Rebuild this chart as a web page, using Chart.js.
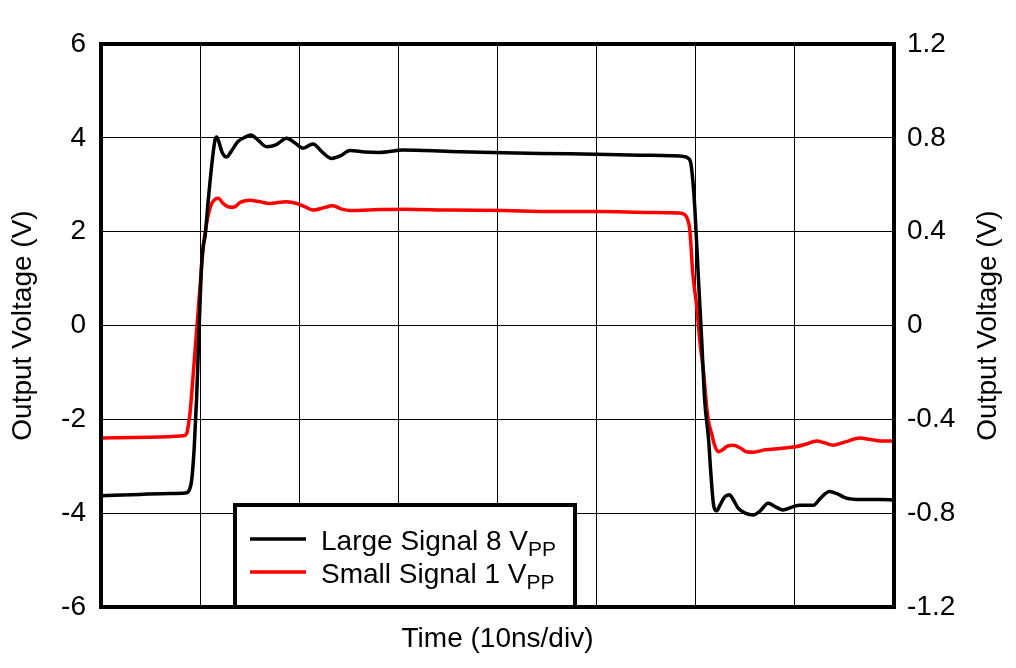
<!DOCTYPE html>
<html>
<head>
<meta charset="utf-8">
<title>Output Voltage vs Time</title>
<script src="https://cdn.jsdelivr.net/npm/chart.js@4.4.1/dist/chart.umd.min.js"></script>
<style>
  html, body { margin: 0; padding: 0; background: #fff; }
  #wrap { width: 1016px; height: 668px; }
</style>
</head>
<body>
<div id="wrap"><canvas id="stepChart" width="1016" height="668"></canvas></div>
<script>
// time in ns (10 ns per division)
const largeTime = [0, 3.9, 7.0, 8.5, 8.9, 9.15, 9.41, 9.65, 9.89, 10.16, 10.33, 10.49, 10.82, 11.23, 11.5, 11.67,
  11.9, 12.2, 12.68, 13.1, 13.82, 14.5, 15.13, 15.84, 16.72, 17.65, 18.73, 19.57, 20.38, 21.39, 22.3, 23.27,
  24.1, 25.12, 26.6, 28.1, 30.5, 35.2, 40.6, 47.3, 54.4, 57.4, 58.8, 59.2, 59.5, 59.7, 59.9, 60.24, 60.6,
  60.9, 61.3, 61.5, 61.8, 62.1, 62.4, 62.9, 63.4, 63.8, 64.3, 65.0, 65.8, 66.5, 67.3, 68.1, 68.8, 69.7,
  70.5, 71.9, 72.5, 73.5, 74.3, 75.2, 76.6, 78.6, 80];
const largeVolts = [-3.63, -3.60, -3.58, -3.57, -3.51, -3.29, -2.58, -1.52, -0.10, 1.33, 1.72, 1.89, 2.67, 3.53, 3.95, 4.02,
  3.91, 3.70, 3.59, 3.70, 3.92, 4.01, 4.06, 3.95, 3.81, 3.85, 3.99, 3.89, 3.78, 3.87, 3.70, 3.56,
  3.61, 3.73, 3.70, 3.69, 3.74, 3.71, 3.68, 3.66, 3.63, 3.62, 3.60, 3.57, 3.46, 3.10, 2.53, 1.12, -0.31,
  -1.59, -2.44, -3.08, -3.83, -3.95, -3.85, -3.66, -3.61, -3.72, -3.90, -4.00, -4.04, -3.95, -3.79, -3.87, -3.93, -3.87,
  -3.83, -3.83, -3.70, -3.54, -3.59, -3.68, -3.71, -3.71, -3.72];

const smallTime = [0, 4.9, 8.3, 8.65, 8.8, 8.98, 9.31, 9.65, 9.99, 10.32, 10.66, 10.89, 11.17, 11.5, 11.83, 12.33,
  12.81, 13.35, 14.1, 15.0, 16.0, 17.0, 18.73, 19.74, 20.6, 21.4, 22.3, 23.4, 24.3, 25.1, 28.1, 30.5,
  35.2, 40.6, 45.3, 50.3, 55.4, 58.4, 58.9, 59.2, 59.4, 59.7, 60.1, 60.4, 60.8, 61.1, 61.3, 61.6,
  61.9, 62.3, 62.7, 63.2, 63.8, 64.5, 65.1, 65.8, 67.0, 68.5, 70.2, 71.1, 72.2, 73.0, 73.9, 75.1,
  76.6, 77.6, 78.6, 80];
// small signal is read against the right axis
const smallVolts = [-0.480, -0.476, -0.470, -0.460, -0.428, -0.374, -0.204, -0.020, 0.166, 0.336, 0.436, 0.484, 0.520, 0.538, 0.542, 0.520,
  0.506, 0.504, 0.526, 0.534, 0.528, 0.520, 0.528, 0.520, 0.506, 0.492, 0.500, 0.510, 0.496, 0.490, 0.494, 0.496,
  0.492, 0.490, 0.486, 0.486, 0.482, 0.480, 0.472, 0.450, 0.408, 0.222, 0.080, -0.062, -0.204, -0.346, -0.412, -0.460,
  -0.510, -0.538, -0.530, -0.514, -0.510, -0.522, -0.538, -0.540, -0.530, -0.524, -0.516, -0.506, -0.492, -0.500, -0.510, -0.496,
  -0.480, -0.486, -0.492, -0.492];

const timeTicks = [0, 10, 20, 30, 40, 50, 60, 70, 80];
const leftTicks = [-6, -4, -2, 0, 2, 4, 6];
const rightTicks = [-1.2, -0.8, -0.4, 0, 0.4, 0.8, 1.2];
const seriesLabels = ['Large Signal 8 V', 'Small Signal 1 V'];
const seriesSub = ['PP', 'PP'];
const yTitle = 'Output Voltage (V)';

const FONT = '"Liberation Sans", Arial, sans-serif';

function toPoints(xs, ys) {
    return xs.map((x, i) => ({ x: x, y: ys[i] }));
}

// legend box inside the plot, heavy frame, and the right title (reads bottom-to-top like the left one)
const frameAndLegend = {
    id: 'frameAndLegend',
    afterDraw(chart) {
        const ctx = chart.ctx;
        const ca = chart.chartArea;
        ctx.save();

        const bx = ca.left + 134, bw = 340, bh = 102;
        const by = ca.bottom - bh;
        ctx.fillStyle = '#fff';
        ctx.fillRect(bx, by, bw, bh);
        ctx.lineWidth = 4;
        ctx.strokeStyle = '#000';
        ctx.strokeRect(bx, by, bw, bh);

        chart.data.datasets.forEach(function(ds, i) {
            const y = by + 34 + i * 33;
            ctx.strokeStyle = ds.borderColor;
            ctx.lineWidth = 3.5;
            ctx.beginPath();
            ctx.moveTo(bx + 15, y);
            ctx.lineTo(bx + 71, y);
            ctx.stroke();

            ctx.fillStyle = '#000';
            ctx.textBaseline = 'alphabetic';
            ctx.textAlign = 'left';
            ctx.font = '28px ' + FONT;
            const tx = bx + 86, ty = y + 11;
            ctx.fillText(ds.label, tx, ty);
            const w = ctx.measureText(ds.label).width;
            ctx.font = '21px ' + FONT;
            ctx.fillText(seriesSub[i], tx + w, ty + 6);
        });

        ctx.lineWidth = 4;
        ctx.strokeStyle = '#000';
        ctx.strokeRect(ca.left, ca.top, ca.width, ca.height);

        // right axis title
        ctx.translate(ca.right + 94, (ca.top + ca.bottom) / 2);
        ctx.rotate(-Math.PI / 2);
        ctx.fillStyle = '#000';
        ctx.font = '28px ' + FONT;
        ctx.textAlign = 'center';
        ctx.textBaseline = 'middle';
        ctx.fillText(yTitle, 0, 0);
        ctx.restore();
    }
};

document.addEventListener('DOMContentLoaded', function() {
    const ctx = document.getElementById('stepChart').getContext('2d');

    new Chart(ctx, {
        type: 'line',
        data: {
            datasets: [
                {
                    label: seriesLabels[0],
                    data: toPoints(largeTime, largeVolts),
                    yAxisID: 'y',
                    borderColor: '#000000',
                    borderWidth: 3.5,
                    pointRadius: 0,
                    cubicInterpolationMode: 'monotone',
                    fill: false
                },
                {
                    label: seriesLabels[1],
                    data: toPoints(smallTime, smallVolts),
                    yAxisID: 'y2',
                    borderColor: '#ff0000',
                    borderWidth: 3.5,
                    pointRadius: 0,
                    cubicInterpolationMode: 'monotone',
                    fill: false
                }
            ]
        },
        options: {
            responsive: false,
            animation: false,
            layout: { padding: { top: 44, left: 0, right: 0, bottom: 0 } },
            plugins: {
                legend: { display: false },
                tooltip: { enabled: false }
            },
            scales: {
                x: {
                    type: 'linear',
                    min: 0,
                    max: 80,
                    afterBuildTicks: s => { s.ticks = timeTicks.map(v => ({ value: v })); },
                    afterFit: s => { s.height = 61; },
                    ticks: { display: false },
                    grid: { color: '#000', lineWidth: 1, drawTicks: false },
                    border: { display: false },
                    title: {
                        display: true,
                        text: 'Time (10ns/div)',
                        color: '#000',
                        font: { family: FONT, size: 28 },
                        padding: { top: 0, bottom: 12 }
                    }
                },
                y: {
                    position: 'left',
                    min: -6,
                    max: 6,
                    afterBuildTicks: s => { s.ticks = leftTicks.map(v => ({ value: v })); },
                    afterFit: s => { s.width = 101; },
                    ticks: {
                        color: '#000',
                        padding: 15,
                        font: { family: FONT, size: 28 },
                        callback: v => String(v)
                    },
                    grid: { color: '#000', lineWidth: 1, drawTicks: false },
                    border: { display: false },
                    title: {
                        display: true,
                        text: yTitle,
                        color: '#000',
                        font: { family: FONT, size: 28 },
                        padding: { top: 6, bottom: 0 }
                    }
                },
                y2: {
                    position: 'right',
                    min: -1.2,
                    max: 1.2,
                    afterBuildTicks: s => { s.ticks = rightTicks.map(v => ({ value: v })); },
                    afterFit: s => { s.width = 122; },
                    ticks: {
                        color: '#000',
                        padding: 13,
                        font: { family: FONT, size: 28 },
                        callback: v => String(v)
                    },
                    grid: { drawOnChartArea: false, drawTicks: false },
                    border: { display: false }
                }
            }
        },
        plugins: [frameAndLegend]
    });
});
</script>
</body>
</html>
